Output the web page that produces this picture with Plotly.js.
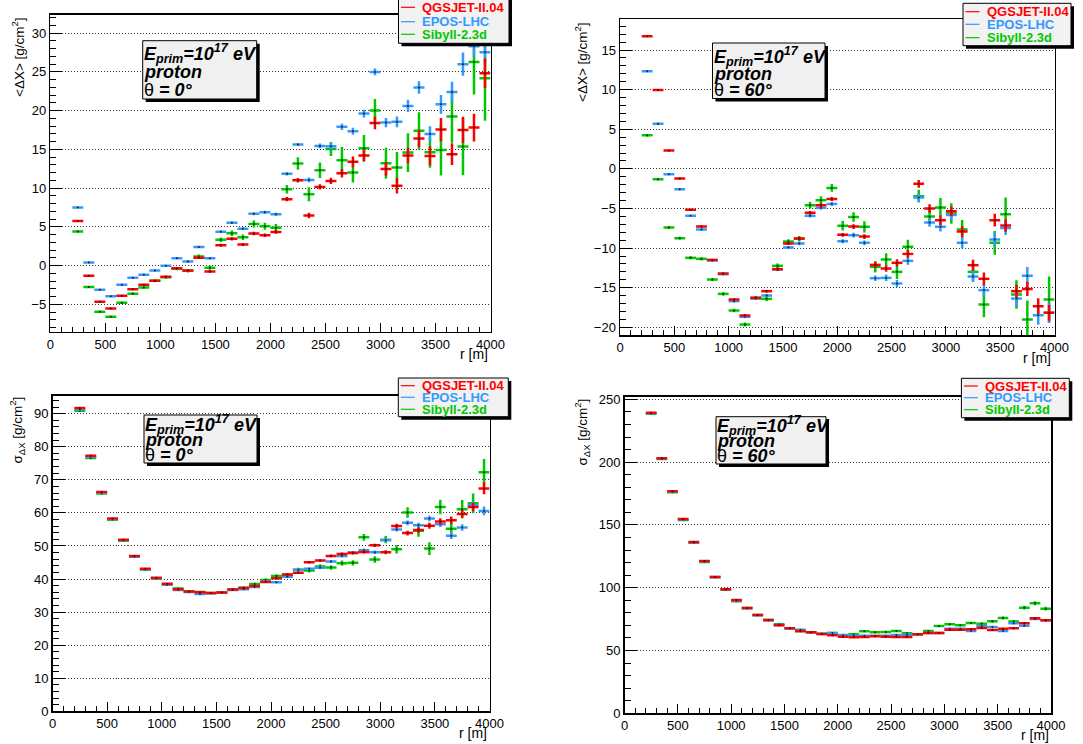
<!DOCTYPE html>
<html>
<head>
<meta charset="utf-8">
<script src="https://cdn.plot.ly/plotly-3.0.1.min.js"></script>
<style>html,body{margin:0;padding:0;background:#fff;}#plot{width:1083px;height:744px;}</style>
</head>
<body>
<div id="plot"></div>
<script>
// ---------------- data ----------------
const r = [250,350,450,550,650,750,850,950,1050,1150,1250,1350,1450,1550,1650,1750,1850,1950,2050,2150,2250,2350,2450,2550,2650,2750,2850,2950,3050,3150,3250,3350,3450,3550,3650,3750,3850,3950];
const binHalfWidth = 50;
const models = ["QGSJET-II.04","EPOS-LHC","Sibyll-2.3d"];

// <ΔX>, θ = 0°
const qgsMean0 = [5.76,-1.33,-4.69,-5.55,-3.91,-3.05,-2.49,-1.98,-1.46,-0.34,-0.65,0.99,-0.77,2.62,3.44,2.71,4.13,3.91,4.34,8.56,11.01,6.45,10.15,10.92,11.91,13.38,14.19,18.4,12.47,10.28,14.19,16.39,14.15,17.55,14.37,17.5,17.8,24.82];
const bluMean0 = [7.5,0.39,-3.14,-3.96,-2.49,-1.59,-1.2,-0.65,-0.04,0.95,0.52,2.38,0.95,4.36,5.52,4.75,6.67,6.88,6.62,11.83,15.61,11.05,15.44,15.4,17.9,17.33,19.61,24.99,18.45,18.54,20.6,22.97,16.99,20.8,22.41,25.98,28.3,27.53];
const sibMean0 = [4.39,-2.78,-5.96,-6.62,-4.82,-3.63,-2.84,-1.98,-1.5,-0.4,-0.67,1.16,-0.28,3.33,4.17,3.64,5.36,5.08,4.86,9.85,13.16,9.2,12.3,15.05,13.59,12.0,15.14,20.0,13.2,12.65,14.58,17.38,14.62,14.92,19.23,15.35,26.28,24.17];
const qgsMeanErr0 = [0.1,0.1,0.1,0.1,0.1,0.1,0.1,0.12,0.12,0.13,0.15,0.15,0.17,0.18,0.2,0.2,0.22,0.22,0.25,0.27,0.3,0.35,0.35,0.4,0.55,0.7,0.75,0.8,0.9,1.0,1.0,1.1,1.2,1.5,1.4,1.7,1.8,1.9];
const bluMeanErr0 = [0.08,0.08,0.08,0.08,0.1,0.1,0.1,0.1,0.12,0.12,0.13,0.13,0.15,0.15,0.17,0.17,0.18,0.2,0.2,0.2,0.2,0.3,0.3,0.45,0.4,0.45,0.5,0.45,0.6,0.7,0.8,0.8,1.0,1.2,1.3,1.5,1.4,1.5];
const sibMeanErr0 = [0.12,0.12,0.12,0.12,0.15,0.15,0.15,0.18,0.2,0.2,0.22,0.25,0.28,0.3,0.35,0.35,0.45,0.45,0.5,0.55,0.8,0.9,1.0,0.9,1.7,1.3,1.7,1.5,2.0,2.0,2.5,2.4,2.0,3.3,3.4,3.7,4.2,5.5];

// <ΔX>, θ = 60°
const qgsMean60 = [16.74,9.97,2.31,-1.22,-5.17,-7.28,-11.49,-13.21,-16.49,-18.51,-16.28,-15.44,-12.66,-9.42,-8.79,-5.55,-4.59,-3.79,-8.33,-7.28,-8.54,-12.12,-12.58,-11.86,-10.73,-1.89,-5.0,-6.48,-5.34,-7.91,-12.16,-13.88,-6.48,-7.15,-15.44,-15.15,-17.33,-18.17];
const bluMean60 = [12.33,5.68,-0.67,-2.57,-5.93,-7.66,-11.57,-13.29,-16.7,-18.68,-16.37,-15.99,-12.7,-9.93,-9.42,-5.93,-4.92,-4.42,-9.13,-8.37,-9.34,-13.8,-13.76,-14.47,-11.61,-3.62,-6.77,-7.32,-5.81,-9.34,-13.59,-15.31,-8.92,-7.45,-16.37,-13.5,-18.47,-18.17];
const sibMean60 = [4.25,-1.3,-7.4,-8.75,-11.23,-11.36,-13.97,-15.78,-17.88,-19.65,-16.28,-16.41,-12.24,-9.17,-8.83,-4.59,-3.95,-2.4,-7.19,-6.06,-7.32,-12.37,-11.44,-13.0,-9.84,-3.45,-6.02,-4.88,-5.64,-7.66,-13.0,-17.12,-9.34,-5.72,-15.86,-19.02,-23.0,-16.49];
const qgsMeanErr60 = [0.1,0.1,0.1,0.1,0.1,0.12,0.12,0.13,0.15,0.15,0.15,0.17,0.2,0.2,0.22,0.22,0.25,0.25,0.25,0.3,0.3,0.4,0.4,0.45,0.5,0.5,0.55,0.6,0.6,0.7,0.7,0.8,0.8,0.8,0.8,0.9,1.0,1.0];
const bluMeanErr60 = [0.1,0.1,0.1,0.1,0.1,0.12,0.12,0.13,0.15,0.15,0.15,0.17,0.2,0.2,0.22,0.22,0.25,0.25,0.25,0.3,0.3,0.35,0.4,0.45,0.5,0.5,0.55,0.6,0.6,0.7,0.7,0.8,0.9,0.9,1.0,1.1,1.2,1.3];
const sibMeanErr60 = [0.15,0.15,0.18,0.18,0.2,0.2,0.2,0.22,0.22,0.25,0.25,0.28,0.3,0.3,0.35,0.4,0.5,0.5,0.6,0.6,0.7,0.7,0.8,0.9,0.9,0.8,1.0,1.2,1.3,1.2,1.1,1.6,1.5,2.1,1.8,2.4,1.9,2.9];

// σ_ΔX, θ = 0°
const qgsSig0 = [91.7,77.3,66.3,58.3,51.9,47.0,43.1,40.4,38.6,36.9,36.2,36.0,35.8,35.9,36.8,37.3,37.9,39.1,40.2,41.4,41.9,45.1,45.6,47.0,47.6,47.9,48.2,50.2,48.1,56.0,53.9,54.8,56.1,57.4,57.8,59.7,61.8,67.4];
const bluSig0 = [91.3,77.0,66.1,58.1,51.7,46.8,42.9,40.2,38.3,36.7,36.1,35.5,35.7,35.9,36.7,36.9,37.6,39.3,39.0,40.7,42.8,43.1,43.4,45.3,47.0,48.0,48.7,48.1,51.7,55.0,57.0,56.3,58.3,56.6,53.1,55.6,62.4,60.6];
const sibSig0 = [90.9,76.6,65.9,57.9,51.6,46.7,42.9,40.1,38.4,37.1,36.3,36.1,35.8,35.9,36.8,37.4,38.5,39.7,40.9,41.3,42.8,42.6,43.8,43.5,44.8,44.9,52.6,45.9,51.9,49.0,60.1,54.6,49.2,61.8,55.2,61.1,62.9,72.3];
const qgsSigErr0 = [0.3,0.25,0.2,0.2,0.2,0.2,0.2,0.2,0.2,0.2,0.2,0.2,0.2,0.2,0.2,0.25,0.25,0.25,0.3,0.3,0.3,0.35,0.35,0.4,0.4,0.45,0.5,0.5,0.6,0.7,0.7,0.8,0.9,1.0,1.1,1.2,1.3,1.8];
const bluSigErr0 = [0.3,0.25,0.2,0.2,0.2,0.2,0.2,0.2,0.2,0.2,0.2,0.2,0.2,0.2,0.2,0.25,0.25,0.25,0.3,0.3,0.3,0.35,0.35,0.4,0.4,0.45,0.5,0.5,0.6,0.6,0.7,0.7,0.8,0.9,1.0,1.0,1.2,1.3];
const sibSigErr0 = [0.3,0.3,0.25,0.25,0.25,0.25,0.25,0.25,0.25,0.25,0.25,0.3,0.3,0.3,0.3,0.35,0.4,0.45,0.5,0.5,0.6,0.6,0.7,0.7,0.8,0.8,1.0,1.0,1.1,1.3,1.6,1.8,1.9,2.2,2.6,2.8,3.0,4.0];

// σ_ΔX, θ = 60°
const qgsSig60 = [239.4,203.0,176.8,154.7,136.4,121.3,108.5,98.7,90.2,83.9,78.3,74.3,70.1,67.7,65.6,64.5,63.2,62.1,61.0,60.5,60.8,61.3,61.0,60.8,60.8,62.9,64.0,64.0,66.6,66.6,66.9,67.9,66.3,67.4,67.7,71.7,75.6,74.0];
const bluSig60 = [239.0,202.8,176.4,154.3,136.1,121.0,108.4,98.6,89.8,83.7,78.1,74.1,70.3,67.8,66.6,64.6,63.2,64.0,62.1,61.8,61.8,61.8,61.8,62.4,62.6,62.9,64.0,64.0,67.4,67.4,65.6,69.5,68.7,65.6,71.7,69.8,75.1,74.0];
const sibSig60 = [238.6,202.5,176.0,153.9,135.9,120.5,108.5,98.5,89.2,83.9,78.3,74.3,70.9,67.7,65.3,64.5,63.4,64.0,62.4,62.9,65.3,64.5,64.8,65.6,63.7,62.9,65.6,69.5,70.9,70.1,71.9,71.4,73.2,75.9,73.0,84.1,87.6,83.3];
const qgsSigErr60 = [0.6,0.5,0.5,0.5,0.4,0.4,0.4,0.4,0.4,0.4,0.4,0.4,0.4,0.4,0.4,0.4,0.4,0.4,0.4,0.4,0.4,0.4,0.4,0.4,0.4,0.5,0.5,0.5,0.5,0.5,0.6,0.6,0.6,0.7,0.7,0.8,0.9,1.0];
const bluSigErr60 = [0.6,0.5,0.5,0.5,0.4,0.4,0.4,0.4,0.4,0.4,0.4,0.4,0.4,0.4,0.4,0.4,0.4,0.4,0.4,0.4,0.4,0.4,0.4,0.4,0.4,0.5,0.5,0.5,0.5,0.5,0.6,0.6,0.6,0.7,0.7,0.8,0.9,1.0];
const sibSigErr60 = [0.6,0.5,0.5,0.5,0.4,0.4,0.4,0.4,0.4,0.4,0.4,0.4,0.4,0.4,0.4,0.4,0.5,0.5,0.5,0.5,0.5,0.5,0.5,0.6,0.6,0.6,0.7,0.7,0.8,0.8,0.8,0.9,1.0,1.1,1.2,1.5,1.6,1.5];

// ---------------- style ----------------
const W = 1083, H = 744;
const colors = {"QGSJET-II.04":"#ff0000","EPOS-LHC":"#3399ff","Sibyll-2.3d":"#00c800"};
const FONT = "Liberation Sans, Arial, Helvetica, sans-serif";
const px = x => x / W;
const py = y => 1 - y / H;

const panels = [
  {ax:"", series:{"QGSJET-II.04":[qgsMean0,qgsMeanErr0],"EPOS-LHC":[bluMean0,bluMeanErr0],"Sibyll-2.3d":[sibMean0,sibMeanErr0]},
   frame:[50.3,14.7,490.5,331.7], yrange:[-8.54,32.37], dtick:5, minor:1, ytitle:"&lt;ΔX&gt; [g/cm<sup>2</sup>]",
   ytitlePos:[18,15], xtitlePos:[490,354], theta:"0",
   box:[142.7,40.7,256.7,99], lines:[59.5,78,95.5],
   legend:[398.5,-6,509,43.3], rows:[7.3,21.7,34.3]},
  {ax:"2", series:{"QGSJET-II.04":[qgsMean60,qgsMeanErr60],"EPOS-LHC":[bluMean60,bluMeanErr60],"Sibyll-2.3d":[sibMean60,sibMeanErr60]},
   frame:[620,19.3,1054.5,335], yrange:[-20.97,18.88], dtick:5, minor:1, ytitle:"&lt;ΔX&gt; [g/cm<sup>2</sup>]",
   ytitlePos:[581,20], xtitlePos:[1053,358], theta:"60",
   box:[712.5,43,825,98.5], lines:[62,80,96.5],
   legend:[963,3.3,1071,45.7], rows:[11.7,24.3,37.7]},
  {ax:"3", series:{"QGSJET-II.04":[qgsSig0,qgsSigErr0],"EPOS-LHC":[bluSig0,bluSigErr0],"Sibyll-2.3d":[sibSig0,sibSigErr0]},
   frame:[52.5,395.7,489.5,711.3], yrange:[0,95.44], dtick:10, minor:2, ytitle:"σ<sub>ΔX</sub> [g/cm<sup>2</sup>]",
   ytitlePos:[17,395], xtitlePos:[489,733], theta:"0",
   box:[144,415,257,463], lines:[430,446,461.5],
   legend:[398.3,378,508.3,416.7], rows:[385.7,397.3,409.3]},
  {ax:"4", series:{"QGSJET-II.04":[qgsSig60,qgsSigErr60],"EPOS-LHC":[bluSig60,bluSigErr60],"Sibyll-2.3d":[sibSig60,sibSigErr60]},
   frame:[624.5,396.7,1051,713.3], yrange:[0,252.1], dtick:50, minor:10, ytitle:"σ<sub>ΔX</sub> [g/cm<sup>2</sup>]",
   ytitlePos:[582,397], xtitlePos:[1051,735], theta:"60",
   box:[716,416.7,826,464], lines:[431,447,462.5],
   legend:[961.4,378.3,1069.3,417.7], rows:[386,397.7,409.7]}
];

const drawOrder = ["Sibyll-2.3d","EPOS-LHC","QGSJET-II.04"];
const traces = [];
const layout = {
  width: W, height: H, margin:{l:0,r:0,t:0,b:0},
  paper_bgcolor:"#fff", plot_bgcolor:"#fff", showlegend:false,
  font:{family:FONT, color:"#000"},
  shapes:[], annotations:[]
};

panels.forEach(p => {
  const xa = "x"+p.ax, ya = "y"+p.ax;
  drawOrder.forEach(m => {
    const [vals, errs] = p.series[m];
    traces.push({
      type:"scatter", mode:"markers", x:r, y:vals, name:m,
      xaxis:xa, yaxis:ya, hoverinfo:"skip",
      marker:{size:2, color:"#222"},
      error_x:{type:"constant", value:binHalfWidth, width:0, thickness:2.5, color:colors[m]},
      error_y:{type:"data", array:errs, width:0, thickness:2.5, color:colors[m]}
    });
  });
  const [fl, ft, fr, fb] = p.frame;
  layout["xaxis"+p.ax] = {
    domain:[px(fl), px(fr)], range:[0,4000], anchor:ya,
    tick0:0, dtick:500, ticks:"inside", ticklen:9, tickwidth:1, tickcolor:"#000",
    minor:{dtick:100, ticks:"inside", ticklen:5, tickwidth:1, tickcolor:"#000", showgrid:false},
    showline:true, linecolor:"#000", linewidth:1.5, mirror:true,
    showgrid:false, zeroline:false, tickfont:{family:FONT, size:13, color:"#000"}, fixedrange:true
  };
  layout["yaxis"+p.ax] = {
    domain:[py(fb), py(ft)], range:p.yrange, anchor:xa,
    tick0:0, dtick:p.dtick, ticks:"inside", ticklen:12, tickwidth:1, tickcolor:"#000",
    minor:{dtick:p.minor, ticks:"inside", ticklen:6, tickwidth:1, tickcolor:"#000", showgrid:false},
    showline:true, linecolor:"#000", linewidth:1.5, mirror:true,
    showgrid:true, gridcolor:"#333", griddash:"1px,2px", gridwidth:1,
    zeroline:false, tickfont:{family:FONT, size:13, color:"#000"}, fixedrange:true
  };

  // axis titles
  layout.annotations.push({
    xref:"paper", yref:"paper", x:px(p.ytitlePos[0]), y:py(p.ytitlePos[1]),
    xanchor:"center", yanchor:"top", textangle:-90, showarrow:false,
    text:p.ytitle, font:{family:FONT, size:13.5, color:"#000"}
  });
  layout.annotations.push({
    xref:"paper", yref:"paper", x:px(p.xtitlePos[0]), y:py(p.xtitlePos[1]),
    xanchor:"right", yanchor:"middle", showarrow:false,
    text:"r [m]", font:{family:FONT, size:14, color:"#000"}
  });

  // info box
  const [bl, bt, br, bb] = p.box;
  layout.shapes.push({type:"rect", xref:"paper", yref:"paper", x0:px(bl+3), x1:px(br+3), y0:py(bb+3), y1:py(bt+3), fillcolor:"#000", line:{width:0}});
  layout.shapes.push({type:"rect", xref:"paper", yref:"paper", x0:px(bl), x1:px(br), y0:py(bb), y1:py(bt), fillcolor:"#f0f0f0", line:{color:"#000", width:1}});
  const texts = [
    "<b><i>E<sub>prim</sub>=10<sup>17</sup> eV</i></b>",
    "<b><i>proton</i></b>",
    "θ<b><i> = "+p.theta+"°</i></b>"
  ];
  texts.forEach((t,i) => {
    layout.annotations.push({
      xref:"paper", yref:"paper", x:px(bl), y:py(p.lines[i]-6),
      xanchor:"left", yanchor:"middle", showarrow:false, align:"left", borderpad:0,
      text:t, font:{family:FONT, size:18, color:"#000"}
    });
  });

  // legend
  const [ll, lt, lr, lb] = p.legend;
  layout.shapes.push({type:"rect", xref:"paper", yref:"paper", x0:px(ll+3), x1:px(lr+3), y0:py(lb+3), y1:py(lt+3), fillcolor:"#000", line:{width:0}});
  layout.shapes.push({type:"rect", xref:"paper", yref:"paper", x0:px(ll), x1:px(lr), y0:py(lb), y1:py(lt), fillcolor:"#f2f2f2", line:{color:"#000", width:1}});
  models.forEach((m,i) => {
    const yy = p.rows[i];
    layout.shapes.push({type:"line", xref:"paper", yref:"paper", x0:px(ll+2.5), x1:px(ll+16.5), y0:py(yy), y1:py(yy), line:{color:colors[m], width:1.2}});
    layout.annotations.push({
      xref:"paper", yref:"paper", x:px(ll+21.5), y:py(yy), xanchor:"left", yanchor:"middle", showarrow:false,
      text:"<b>"+m+"</b>", font:{family:FONT, size:13, color:colors[m]}
    });
  });
});

Plotly.newPlot("plot", traces, layout, {staticPlot:true, displayModeBar:false});
</script>
</body>
</html>
